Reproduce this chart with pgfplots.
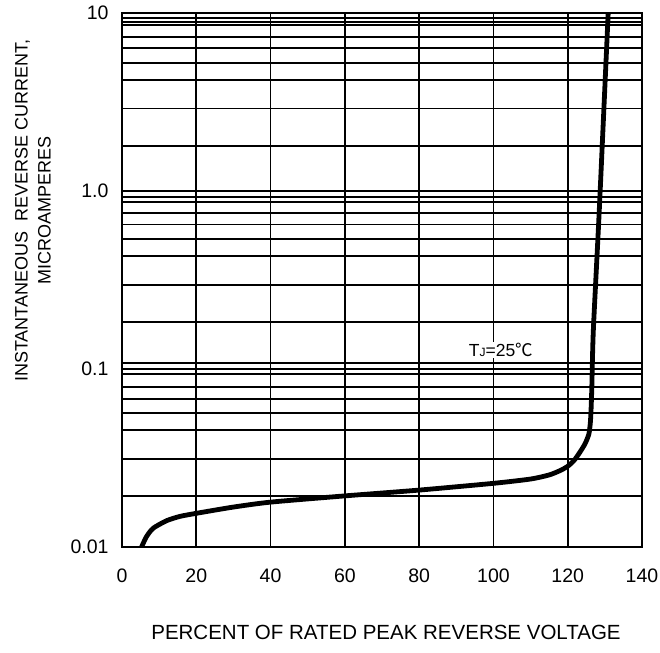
\documentclass[border=0pt]{standalone}
\usepackage{pgfplots}
\pgfplotsset{compat=1.18}
\usepackage{fontspec}
\setmainfont{Liberation Sans}
\newfontfamily\cjk{Noto Sans CJK SC}
\begin{document}
\begin{tikzpicture}
\begin{axis}[
  at={(0,0)}, anchor=south west,
  scale only axis, width=520pt, height=534pt,
  xmin=0, xmax=140, ymode=log, ymin=0.01, ymax=10,
  xtick={0,20,...,140},
  ytick={0.01,0.1,1,10}, yticklabels={0.01,0.1,1.0,10},
  minor ytick={0.0193,0.0311,0.0453,0.0566,0.0673,0.0792,0.0934,0.1072,0.1837,0.295,0.430,0.533,0.647,0.752,0.867,0.925,1.79,2.90,4.19,5.24,6.31,7.33,8.53,8.90,9.30},
  grid=both,
  major grid style={black, line width=1.7pt},
  minor grid style={black, line width=1.7pt},
  axis line style={black, line width=1.7pt},
  major tick length=0pt, minor tick length=0pt,
  /pgf/number format/assume math mode=true,
  tick label style={font=\fontsize{19.5}{22}\selectfont},
  xticklabel style={yshift=-19pt},
  yticklabel style={xshift=-10pt},
  log basis y=10,
  clip=true,
]
\addplot[black, line width=4.8pt, smooth, tension=0.4] coordinates {
(5.3,0.0100) (6.6,0.0114) (8.4,0.0127) (12,0.0140) (15.6,0.0148) (20,0.0154)
(30,0.0167) (40,0.0178) (60,0.0193) (80,0.0208) (100,0.0227) (110,0.0240)
(115,0.0253) (118,0.0268) (120,0.0283) (121.7,0.0305) (123.3,0.0340)
(124.7,0.0380) (125.7,0.0430) (126.1,0.0500) (126.3,0.0600) (126.5,0.0800)
(126.9,0.165) (128.5,0.78) (130.9,10)
};
\node[font=\fontsize{17.5}{20}\selectfont, fill=white, inner sep=1pt] at (axis cs:102,0.127) {T{\fontsize{12}{14}\selectfont J}=25{\cjk ℃}};
\end{axis}
\node[rotate=90, align=center, font=\fontsize{18}{23}\selectfont] at (-89pt,336pt) {INSTANTANEOUS\ \ REVERSE CURRENT,\\MICROAMPERES};
\node[font=\fontsize{20.5}{24}\selectfont] at (264pt,-86pt) {PERCENT OF RATED PEAK REVERSE VOLTAGE};
\pgfresetboundingbox
\path[use as bounding box] (-122pt,-105.3pt) rectangle (538pt,546.7pt);
\end{tikzpicture}
\end{document}
